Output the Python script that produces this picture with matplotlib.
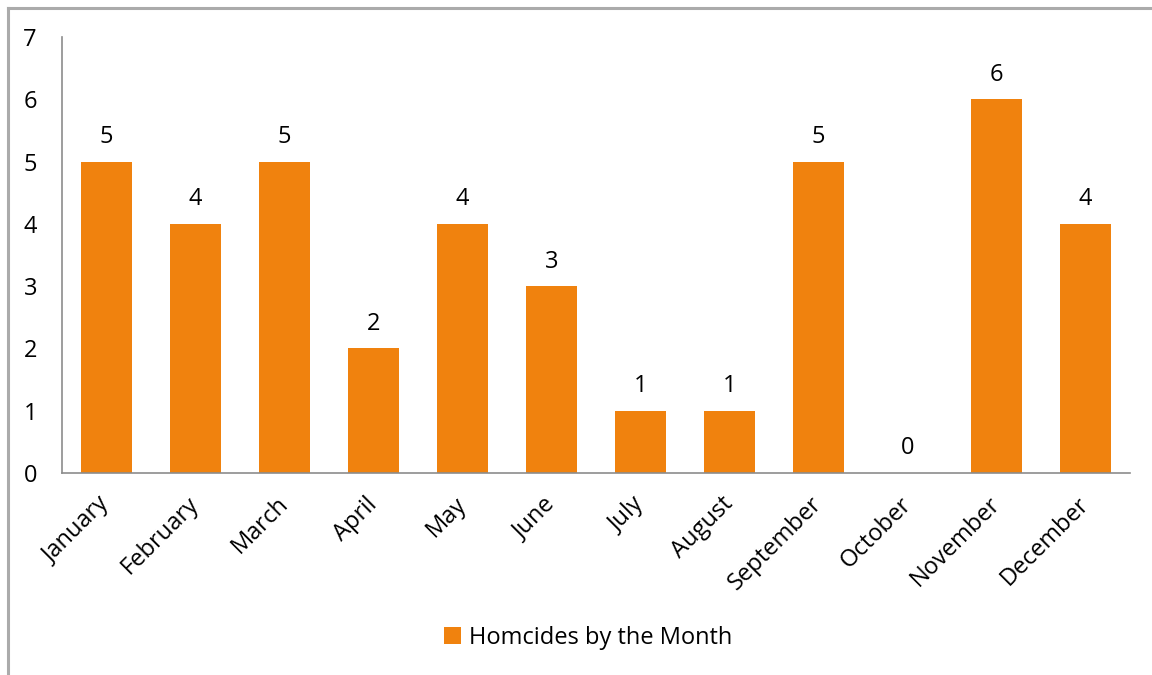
import matplotlib.pyplot as plt
from matplotlib.lines import Line2D
from matplotlib.patches import Patch

months = ['January', 'February', 'March', 'April', 'May', 'June', 'July',
          'August', 'September', 'October', 'November', 'December']
homicides = [5, 4, 5, 2, 4, 3, 1, 1, 5, 0, 6, 4]
series_name = 'Homcides by the Month'

bar_color = '#F0820E'
axis_color = '#8C8C8C'

plt.rcParams['font.family'] = ['Open Sans', 'DejaVu Sans']

fig = plt.figure(figsize=(11.52, 6.75), dpi=100)
ax = fig.add_axes([62 / 1152, 1 - 473 / 675, (1130 - 62) / 1152, (473 - 37) / 675])

x = range(len(months))
bars = ax.bar(x, homicides, width=0.575, color=bar_color)

# value labels above each bar
for xi, v in zip(x, homicides):
    ax.annotate(str(v), (xi, v), xytext=(0, 9), textcoords='offset points',
                ha='center', va='bottom', fontsize=17)

ax.set_xlim(-0.5, len(months) - 0.5)
ax.set_ylim(0, 7)
ax.set_yticks(range(0, 8))
ax.set_xticks(list(x))
ax.set_xticklabels(months, rotation=45, ha='right', va='center',
                   rotation_mode='anchor', fontsize=17)
ax.tick_params(axis='x', length=0, pad=20)
ax.tick_params(axis='y', length=0, pad=18, labelsize=17)

for s in ['top', 'right']:
    ax.spines[s].set_visible(False)
for s in ['left', 'bottom']:
    ax.spines[s].set_color(axis_color)
    ax.spines[s].set_linewidth(1.2)

# legend at bottom
handle = Patch(facecolor=bar_color, edgecolor='none')
fig.legend([handle], [series_name], loc='center', bbox_to_anchor=(588 / 1152, 1 - 638 / 675),
           frameon=False, fontsize=17, handlelength=0.7, handleheight=0.7, handletextpad=0.35)

# outer chart border (top and left visible in the crop)
fig.add_artist(Line2D([7.5 / 1152, 7.5 / 1152], [0, 1 - 7.5 / 675], color='#ABABAB', lw=2.2))
fig.add_artist(Line2D([7.5 / 1152, 1], [1 - 7.5 / 675, 1 - 7.5 / 675], color='#ABABAB', lw=2.2))

fig.savefig('out.png', dpi=100)
